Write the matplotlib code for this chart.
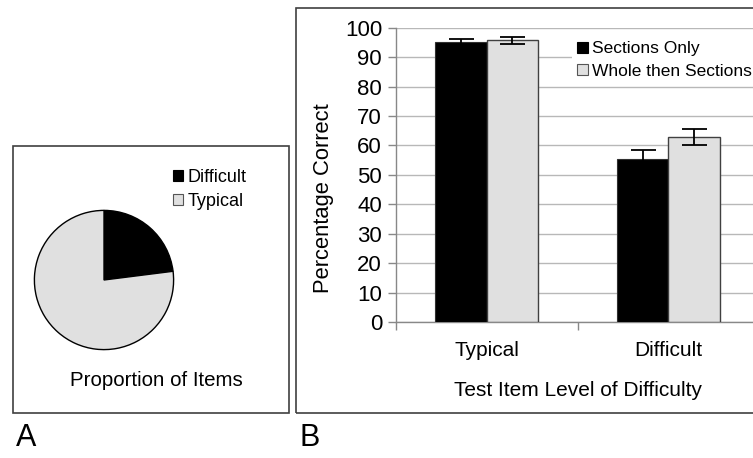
import matplotlib
matplotlib.use("Agg")
import matplotlib.pyplot as plt
from matplotlib.patches import Rectangle, Patch
import numpy as np

plt.rcParams['font.family'] = ['Liberation Sans', 'DejaVu Sans']

# ---- data ----
pie_labels = ["Difficult", "Typical"]
pie_values = [23, 77]
categories = ["Typical", "Difficult"]
series_names = ["Sections Only", "Whole then Sections"]
sections_only = [95.1, 55.5]
sections_only_err = [1.2, 2.8]
whole_then = [95.7, 62.8]
whole_then_err = [1.3, 2.7]
yticks = list(range(0, 101, 10))

W, H = 753, 458
fig = plt.figure(figsize=(W / 100, H / 100), dpi=100)

def fx(px):
    return px / W

def fy(py):
    return 1 - py / H

BLACK = "#000000"
LIGHT = "#e0e0e0"
FRAME = "#404040"

# ---- panel frames ----
fig.patches.append(Rectangle((fx(13), fy(413)), fx(289) - fx(13), fy(146) - fy(413),
                             transform=fig.transFigure, fill=False, edgecolor=FRAME, lw=1.2))
fig.patches.append(Rectangle((fx(296), fy(413)), fx(770) - fx(296), fy(8) - fy(413),
                             transform=fig.transFigure, fill=False, edgecolor=FRAME, lw=1.2))

# ---- panel A: pie ----
cx, cy, r = 104, 280, 71
ax_p = fig.add_axes([fx(cx - r), fy(cy + r), fx(2 * r), fy(0) - fy(2 * r)])
wedges, _ = ax_p.pie(pie_values, colors=[BLACK, LIGHT], startangle=90, counterclock=False,
                     wedgeprops=dict(edgecolor="black", linewidth=1.0))
ax_p.set_xlim(-1.02, 1.02)
ax_p.set_ylim(-1.02, 1.02)
ax_p.set_aspect("auto")
ax_p.axis("off")

handles_a = [Patch(facecolor=BLACK, edgecolor=BLACK, lw=0.8),
             Patch(facecolor=LIGHT, edgecolor="#555555", lw=0.8)]
fig.legend(handles_a, pie_labels, loc="upper left", bbox_to_anchor=(fx(173), fy(169)),
           frameon=False, fontsize=13, handlelength=0.55, handleheight=0.55,
           handletextpad=0.25, labelspacing=0.4, borderpad=0, borderaxespad=0)
fig.text(fx(156), fy(381), "Proportion of Items", ha="center", va="center", fontsize=14.8)

# ---- panel B: bars ----
ax = fig.add_axes([fx(396), fy(322), fx(759) - fx(396), fy(27.7) - fy(322)])
x = np.arange(len(categories))
bw = 0.283
ax.bar(x - bw / 2, sections_only, bw, color=BLACK, edgecolor="#303030", lw=0.8, zorder=3)
ax.bar(x + bw / 2, whole_then, bw, color=LIGHT, edgecolor=FRAME, lw=1.0, zorder=3)
ax.errorbar(x - bw / 2, sections_only, yerr=sections_only_err, fmt="none", ecolor="black",
            elinewidth=1.3, capsize=9, capthick=1.3, zorder=4)
ax.errorbar(x + bw / 2, whole_then, yerr=whole_then_err, fmt="none", ecolor="black",
            elinewidth=1.3, capsize=9, capthick=1.3, zorder=4)
ax.set_xlim(-0.5, 1.5)
ax.set_ylim(0, 100)
ax.set_yticks(yticks)
ax.set_yticklabels([str(t) for t in yticks], fontsize=16)
ax.set_xticks(x)
ax.set_xticklabels(categories, fontsize=15)
ax.tick_params(axis="x", length=0, pad=14)
ax.set_xticks([-0.5, 0.5, 1.5], minor=True)
ax.tick_params(axis="x", which="minor", length=6, color="#888888", width=1)
ax.tick_params(axis="y", length=6, color="#888888", width=1, pad=4)
ax.yaxis.grid(True, color="#b8b8b8", lw=1.0, zorder=0)
ax.set_axisbelow(True)
for s in ["top", "right"]:
    ax.spines[s].set_visible(False)
for s in ["left", "bottom"]:
    ax.spines[s].set_color("#888888")
    ax.spines[s].set_linewidth(1.0)
ax.set_ylabel("Percentage Correct", fontsize=15.8)
ax.yaxis.set_label_coords(-0.17, 0.42)
ax.set_xlabel("Test Item Level of Difficulty", fontsize=15, labelpad=15)

handles_b = [Patch(facecolor=BLACK, edgecolor=BLACK, lw=0.8),
             Patch(facecolor=LIGHT, edgecolor="#555555", lw=0.8)]
leg = fig.legend(handles_b, series_names, loc="upper left", bbox_to_anchor=(fx(572), fy(36)),
                 frameon=True, fontsize=12.5, handlelength=0.6, handleheight=0.6,
                 handletextpad=0.25, labelspacing=0.45, borderpad=0.3, borderaxespad=0,
                 fancybox=False)
leg.get_frame().set_facecolor("white")
leg.get_frame().set_edgecolor("none")
leg.get_frame().set_alpha(1)

# ---- panel letters ----
fig.text(fx(16), fy(438.5), "A", ha="left", va="center", fontsize=22)
fig.text(fx(299), fy(438.5), "B", ha="left", va="center", fontsize=22)

fig.savefig("out.png", dpi=100)
